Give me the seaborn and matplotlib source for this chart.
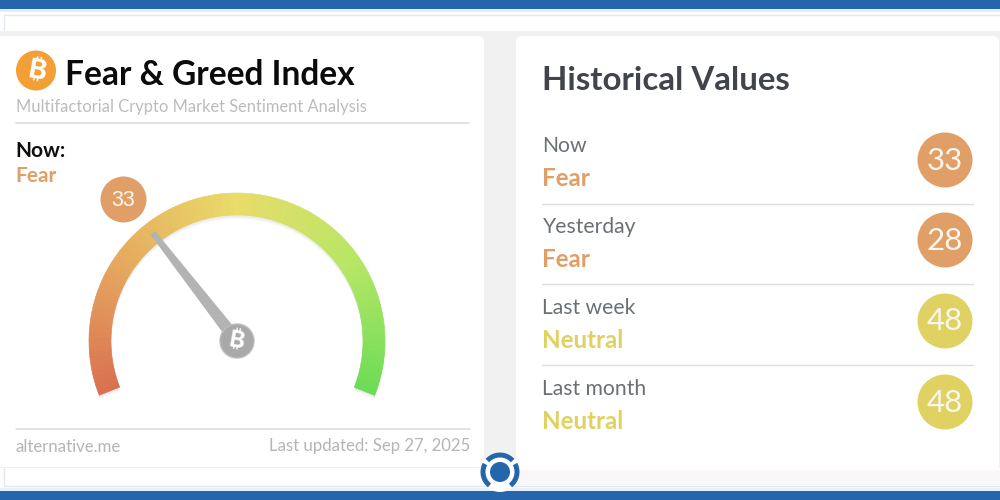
import numpy as np
import pandas as pd
import matplotlib
matplotlib.use("Agg")
import matplotlib.pyplot as plt
from matplotlib.colors import LinearSegmentedColormap
from matplotlib.patches import Rectangle, FancyBboxPatch, Circle, Polygon
import seaborn as sns

# ---- data ----
now_value = 33
now_label = "Fear"
periods = ["Now", "Yesterday", "Last week", "Last month"]
hist_values = [33, 28, 48, 48]
hist_labels = ["Fear", "Fear", "Neutral", "Neutral"]
gauge_stops = [0, 25, 50, 75, 100]
gauge_colors = ["#d96f50", "#e6a95f", "#e9dc68", "#b8e666", "#6cdc55"]
label_colors = {"Fear": "#e09f67", "Neutral": "#dfd162"}

sns.set_theme(style="white")
plt.rcParams["font.family"] = ["Lato", "DejaVu Sans"]
BTC_FONTS = ["Inter", "Noto Sans", "Roboto", "Open Sans", "Liberation Sans", "DejaVu Sans"]

fig = plt.figure(figsize=(10, 5), dpi=100, facecolor="white")
ax = fig.add_axes([0, 0, 1, 1])
ax.set_xlim(0, 1000)
ax.set_ylim(500, 0)
ax.axis("off")

BLUE = "#2565ac"
# page frame
ax.add_patch(Rectangle((0, 0), 1000, 9, fc=BLUE, ec="none", zorder=1))
ax.add_patch(Rectangle((0, 491), 1000, 9, fc=BLUE, ec="none", zorder=1))
ax.add_patch(Rectangle((0, 9), 1000, 3, fc="#dfeefa", ec="none", zorder=1))
ax.add_patch(Rectangle((0, 488), 1000, 3, fc="#e6f0fa", ec="none", zorder=1))
ax.add_patch(Rectangle((3.5, 14.5), 1010, 471, fc="white", ec="#e0e6f2", lw=1, zorder=1))
ax.add_patch(Rectangle((0, 31), 1000, 437, fc="#f1f1f1", ec="none", zorder=2))
ax.add_patch(Rectangle((500, 470), 500, 15, fc="#f9f7f7", ec="none", zorder=1.5))


def card(x0, y0, x1, y1):
    ax.add_patch(FancyBboxPatch((x0 + 6, y0 + 6), x1 - x0 - 12, y1 - y0 - 12,
                                boxstyle="round,pad=6,rounding_size=6",
                                fc="white", ec="none", zorder=3))


card(-10, 36, 484, 467)
card(516, 36, 999, 470)

# ---- header left ----
ax.add_patch(Circle((36, 70.5), 20, fc="#f2a036", ec="none", zorder=4))
ax.text(36.5, 71, "\u20bf", color="white", fontsize=20, fontweight="bold",
        family=BTC_FONTS, ha="center", va="center", rotation=-10, zorder=5)
ax.text(65, 75, "Fear & Greed Index", color="#0b0b0b", fontsize=24.15,
        fontweight="bold", ha="left", va="center", zorder=5)
ax.text(16, 107, "Multifactorial Crypto Market Sentiment Analysis", color="#bcbcbc",
        fontsize=11.9, ha="left", va="center", zorder=5)
ax.plot([16, 469], [122.5, 122.5], color="#dfdfdf", lw=1.3, zorder=4)
ax.text(15, 151, "Now:", color="#0d0d0d", fontsize=15, fontweight="bold",
        ha="left", va="center", zorder=5)
ax.text(15, 175.5, now_label, color=label_colors[now_label], fontsize=15, fontweight="bold",
        ha="left", va="center", zorder=5)

# ---- gauge ----
cx, cy = 237, 341
r_out, r_in = 148, 126
SWEEP = 111.5   # half sweep in degrees, from the top of the dial
cmap = LinearSegmentedColormap.from_list(
    "gauge", [(s / 100, c) for s, c in zip(gauge_stops, gauge_colors)])


def angle(v):
    return 90 + SWEEP * (50 - v) / 50


def ring_segment(t1, t2, ro, ri, x0=cx, y0=cy, **kw):
    t = np.radians(np.linspace(t1, t2, 40))
    outer = np.c_[x0 + ro * np.cos(t), y0 - ro * np.sin(t)]
    inner = np.c_[x0 + ri * np.cos(t), y0 - ri * np.sin(t)]
    ax.add_patch(Polygon(np.r_[outer, inner[::-1]], closed=True, **kw))


# soft shadow of the dial
for off, al in [(4, 0.04), (3, 0.05), (2, 0.07)]:
    ring_segment(angle(0), angle(100), r_out, r_in, y0=cy + off,
                 fc="#888888", ec="none", alpha=al, zorder=3.5)

grid = np.linspace(0, 100, 201)
for a, b in zip(grid[:-1], grid[1:]):
    col = cmap((a + b) / 200)
    ring_segment(angle(a), angle(b) - 0.08, r_out, r_in, fc=col, ec=col, lw=0.4, zorder=4)

# needle
theta = np.radians(angle(now_value))
ux, uy = np.cos(theta), -np.sin(theta)
n = np.array([-uy, ux])
tip = np.array([cx + 137 * ux, cy + 137 * uy])
base = np.array([cx, cy])
ax.add_patch(Polygon([tip + 3 * n, tip - 3 * n, base - 6.5 * n, base + 6.5 * n],
                     closed=True, fc="#b3b3b3", ec="none", zorder=5))
ax.add_patch(Circle((cx, cy), 17, fc="#a9a9a9", ec="#bdbdbd", lw=1, zorder=6))
ax.text(cx, cy, "\u20bf", color="white", fontsize=17, fontweight="bold",
        family=BTC_FONTS, ha="center", va="center", rotation=-10, zorder=7)

# ---- value badges through seaborn ----
badges = pd.DataFrame({
    "x": [123] + [945] * len(periods),
    "y": [199, 160, 240, 321, 402],
    "value": [now_value] + hist_values,
    "label": [now_label] + hist_labels,
})
badge_pts = [46] + [55] * len(periods)
for d, sub in badges.groupby(np.array(badge_pts)):
    sns.scatterplot(data=sub, x="x", y="y", hue="label", palette=label_colors,
                    s=(d * 0.72) ** 2, linewidth=0, legend=False, ax=ax, zorder=5)
for (_, r), d in zip(badges.iterrows(), badge_pts):
    ax.text(r.x, r.y + (1 if d == 46 else 0.5), str(r.value), color="#fdf6ee",
            fontsize=15.5 if d == 46 else 22.5,
            family="Liberation Sans" if d == 46 else "Lato",
            ha="center", va="center", zorder=6)
ax.set_xlim(0, 1000)
ax.set_ylim(500, 0)
ax.set_xlabel("")
ax.set_ylabel("")

# ---- right panel ----
ax.text(542, 81, "Historical Values", color="#41454b", fontsize=23.8, fontweight="bold",
        ha="left", va="center", zorder=5)
row_y = [146, 227, 308, 389]
sep_y = [203.5, 283.5, 364.5]
for i, (p, lab, y) in enumerate(zip(periods, hist_labels, row_y)):
    ax.text(542.5, y, p, color="#6b7075", fontsize=15.2, ha="left", va="center", zorder=5)
    ax.text(542.5, y + 32.5, lab, color=label_colors[lab], fontsize=17.4, fontweight="bold",
            ha="left", va="center", zorder=5)
for y in sep_y:
    ax.plot([542, 973], [y, y], color="#dcdcdc", lw=1, zorder=4)

# ---- footer ----
ax.plot([16, 470], [429, 429], color="#dfdfdf", lw=1.2, zorder=4)
ax.text(16, 446.5, "alternative.me", color="#b5b5b5", fontsize=12.1, ha="left", va="center", zorder=5)
ax.text(470, 446.5, "Last updated: Sep 27, 2025", color="#b5b5b5", fontsize=12.1,
        ha="right", va="center", zorder=5)

# ---- logo ----
lx, ly = 500, 472
ax.add_patch(Circle((lx, ly), 20, fc="white", ec="none", zorder=6))
ax.add_patch(Circle((lx, ly), 10, fc=BLUE, ec="none", zorder=8))
for t1, t2 in [(42, 138), (152, 232), (308, 388)]:
    ring_segment(t1, t2, 19.5, 14.5, x0=lx, y0=ly, fc=BLUE, ec="none", zorder=7)

fig.savefig("out.png", dpi=100, facecolor="white")
